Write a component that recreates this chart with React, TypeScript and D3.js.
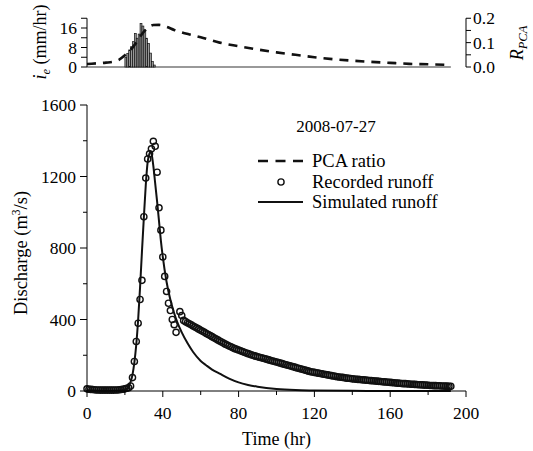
import React from "react";
import * as d3 from "d3";

// ---- data ----
const rainTime = [20, 21, 22, 23, 24, 25, 26, 27, 28, 29, 30, 31, 32, 33, 34, 35];
const rainValue = [4.0, 5.6, 7.0, 8.3, 10.4, 13.8, 11.8, 13.5, 17.9, 16.8, 15.2, 11.8, 9.7, 5.7, 2.2, 0.8];

const pcaTime = [0, 5, 10, 14, 17, 20, 23, 26, 29, 32, 35, 38, 42, 46, 50, 55, 60, 70, 80, 90, 100, 110, 120, 130, 140, 150, 160, 170, 180, 190, 192];
const pcaValue = [0.012, 0.015, 0.018, 0.022, 0.03, 0.048, 0.07, 0.1, 0.135, 0.16, 0.172, 0.173, 0.165, 0.152, 0.142, 0.132, 0.122, 0.1, 0.085, 0.072, 0.06, 0.05, 0.04, 0.032, 0.026, 0.021, 0.017, 0.013, 0.011, 0.009, 0.008];

const simTime = [0, 5, 10, 15, 18, 20, 21, 22, 23, 24, 25, 26, 27, 28, 29, 30, 31, 32, 33, 33.7, 34.5, 35, 36, 37, 38, 39, 40, 42, 44, 46, 48, 50, 53, 56, 60, 63, 66, 70, 75, 80, 85, 90, 100, 110, 120, 140, 160, 192];
const simQ = [5, 3, 2, 3, 4, 8, 14, 25, 50, 90, 160, 260, 400, 580, 780, 970, 1150, 1280, 1330, 1340, 1300, 1260, 1160, 1060, 950, 840, 750, 610, 510, 435, 375, 328, 268, 218, 168, 143, 120, 97, 69, 48, 34, 24, 11, 5, 3, 1, 0, 0];

const recTime = [
  0, 1, 2, 3, 4, 5, 6, 7, 8, 9, 10, 11, 12, 13, 14, 15, 16, 17, 18, 19, 20, 21,
  22, 23, 24, 25, 26, 27, 28, 29, 30, 31, 32, 33, 34, 35, 36, 37, 38, 39, 40, 41, 42, 43, 44, 45, 46, 47,
  49, 50,
  51, 52, 53, 54, 55, 56, 57, 58, 59, 60,
  61, 62, 63, 64, 65, 66, 67, 68, 69, 70,
  71, 72, 73, 74, 75, 76, 77, 78, 79, 80,
  81, 82, 83, 84, 85, 86, 87, 88, 89, 90,
  91, 92, 93, 94, 95, 96, 97, 98, 99, 100,
  101, 102, 103, 104, 105, 106, 107, 108, 109, 110,
  111, 112, 113, 114, 115, 116, 117, 118, 119, 120,
  121, 122, 123, 124, 125, 126, 127, 128, 129, 130,
  131, 132, 133, 134, 135, 136, 137, 138, 139, 140,
  141, 142, 143, 144, 145, 146, 147, 148, 149, 150,
  151, 152, 153, 154, 155, 156, 157, 158, 159, 160,
  161, 162, 163, 164, 165, 166, 167, 168, 169, 170,
  171, 172, 173, 174, 175, 176, 177, 178, 179, 180,
  181, 182, 183, 184, 185, 186, 187, 188, 189, 190,
  191, 192,
];
const recQ = [
  12, 10, 9, 8, 7, 6, 6, 5, 5, 5, 5, 5, 5, 5, 5, 6, 6, 7, 8, 10, 12, 15,
  18, 28, 75, 165, 277, 379, 512, 619, 975, 1191, 1298, 1327, 1355, 1397, 1369, 1224, 1025, 900, 750, 641, 557, 491, 450, 400, 371, 328,
  444, 422,
  395, 388, 382, 376, 370, 364, 358, 352, 346, 340,
  334, 328, 322, 316, 310, 304, 298, 292, 286, 280,
  274, 268, 262, 257, 252, 247, 242, 237, 233, 229,
  225, 221, 217, 213, 209, 205, 201, 198, 195, 192,
  189, 186, 183, 180, 177, 174, 171, 168, 165, 162,
  159, 156, 153, 150, 147, 144, 141, 138, 135, 132,
  129, 126, 123, 120, 117, 114, 111, 108, 106, 104,
  102, 100, 98, 96, 94, 92, 90, 88, 86, 84,
  82, 80, 78, 77, 76, 74, 72, 71, 70, 68,
  67, 66, 65, 64, 63, 62, 61, 60, 59, 58,
  57, 56, 55, 54, 53, 52, 51, 50, 49, 48,
  47, 46, 45, 44, 43, 42, 41, 41, 40, 39,
  38, 38, 37, 36, 35, 35, 34, 33, 33, 32,
  31, 31, 30, 30, 29, 29, 28, 28, 27, 27,
  26, 26,
];

const xTicks = [0, 40, 80, 120, 160, 200];
const xMinor = [20, 60, 100, 140, 180];
const yTicks = [0, 400, 800, 1200, 1600];
const yMinor = [200, 600, 1000, 1400];
const rainTicks = [0, 8, 16];
const rainMinor = [4, 12, 20];
const pcaTicks = [0, 0.1, 0.2];
const pcaMinor = [0.05, 0.15];
const eventLabel = "2008-07-27";
const legendLabels = ["PCA ratio", "Recorded runoff", "Simulated runoff"];

const FONT = "'Liberation Serif', 'Times New Roman', serif";
const FS = 17.5;

export default function App() {
  const x = d3.scaleLinear().domain([0, 200]).range([87, 466]);
  const y = d3.scaleLinear().domain([0, 1600]).range([391, 105]);
  const yr = d3.scaleLinear().domain([0, 20]).range([67, 18.25]);
  const yp = d3.scaleLinear().domain([0, 0.2]).range([67, 18.25]);

  const simLine = d3
    .line<number>()
    .x((_, i) => x(simTime[i]))
    .y((d) => y(d))
    .curve(d3.curveMonotoneX);
  const pcaLine = d3
    .line<number>()
    .x((_, i) => x(pcaTime[i]))
    .y((d) => yp(d))
    .curve(d3.curveMonotoneX);

  const barW = x(1) - x(0);

  return (
    <svg
      width={533}
      height={451}
      style={{ position: "absolute", left: 0, top: 0, background: "#fff" }}
      fontFamily={FONT}
      fontSize={FS}
    >
      <rect x={0} y={0} width={533} height={451} fill="#fff" />
      {/* ---------- top panel ---------- */}
      <line x1={x(0)} x2={x(192)} y1={67} y2={67} stroke="#777" strokeWidth={1.6} />
      {rainValue.map((v, i) => (
        <rect
          key={"r" + i}
          x={x(rainTime[i])}
          y={yr(v)}
          width={barW}
          height={yr(0) - yr(v)}
          fill="#999"
          stroke="#111"
          strokeWidth={0.7}
        />
      ))}
      <path d={pcaLine(pcaValue) || ""} fill="none" stroke="#111" strokeWidth={2.6} strokeDasharray="9 7" />
      {/* left axis top */}
      <line x1={x(0)} x2={x(0)} y1={yr(0)} y2={yr(20)} stroke="#000" strokeWidth={1} />
      {[...rainTicks, ...rainMinor].map((t) => (
        <line key={"rt" + t} x1={x(0) - 6} x2={x(0)} y1={yr(t)} y2={yr(t)} stroke="#000" strokeWidth={1} />
      ))}
      {rainTicks.map((t) => (
        <text key={"rl" + t} x={x(0) - 10} y={yr(t)} dy="0.35em" textAnchor="end">
          {t}
        </text>
      ))}
      <text transform="translate(46,42) rotate(-90)" textAnchor="middle" fontSize={18}>
        <tspan fontStyle="italic">i</tspan>
        <tspan fontStyle="italic" fontSize={12.5} dy={4}>e</tspan>
        <tspan dy={-4}> (mm/hr)</tspan>
      </text>
      {/* right axis top */}
      <line x1={x(200)} x2={x(200)} y1={yp(0)} y2={yp(0.2)} stroke="#000" strokeWidth={1} />
      {[...pcaTicks, ...pcaMinor].map((t) => (
        <line key={"pt" + t} x1={x(200)} x2={x(200) + 5} y1={yp(t)} y2={yp(t)} stroke="#000" strokeWidth={1} />
      ))}
      {pcaTicks.map((t) => (
        <text key={"pl" + t} x={x(200) + 7} y={yp(t)} dy="0.35em" textAnchor="start">
          {t.toFixed(1)}
        </text>
      ))}
      <text transform="translate(523,43) rotate(-90)" textAnchor="middle" fontSize={18}>
        <tspan fontStyle="italic">R</tspan>
        <tspan fontStyle="italic" fontSize={12.5} dy={4}>PCA</tspan>
      </text>

      {/* ---------- main panel ---------- */}
      <path d={simLine(simQ) || ""} fill="none" stroke="#111" strokeWidth={2} />
      {recQ.map((q, i) => (
        <circle key={"c" + i} cx={x(recTime[i])} cy={y(q)} r={3.1} fill="none" stroke="#111" strokeWidth={1.4} />
      ))}
      {/* axes */}
      <line x1={x(0)} x2={x(0)} y1={y(0)} y2={y(1600)} stroke="#000" strokeWidth={1} />
      <line x1={x(0)} x2={x(200)} y1={y(0)} y2={y(0)} stroke="#000" strokeWidth={1} />
      {yTicks.map((t) => (
        <g key={"yt" + t}>
          <line x1={x(0) - 7} x2={x(0)} y1={y(t)} y2={y(t)} stroke="#000" />
          <text x={x(0) - 11} y={y(t)} dy="0.35em" textAnchor="end">
            {t}
          </text>
        </g>
      ))}
      {yMinor.map((t) => (
        <line key={"ym" + t} x1={x(0) - 4} x2={x(0)} y1={y(t)} y2={y(t)} stroke="#000" />
      ))}
      {xTicks.map((t) => (
        <g key={"xt" + t}>
          <line x1={x(t)} x2={x(t)} y1={y(0)} y2={y(0) + 6} stroke="#000" />
          <text x={x(t)} y={419} textAnchor="middle">
            {t}
          </text>
        </g>
      ))}
      {xMinor.map((t) => (
        <line key={"xm" + t} x1={x(t)} x2={x(t)} y1={y(0)} y2={y(0) + 4} stroke="#000" />
      ))}
      <text x={(x(0) + x(200)) / 2} y={445} textAnchor="middle" fontSize={18}>
        Time (hr)
      </text>
      <text transform="translate(27,253) rotate(-90)" textAnchor="middle" fontSize={18.5}>
        Discharge (m<tspan fontSize={11.5} dy={-7}>3</tspan>
        <tspan dy={7}>/s)</tspan>
      </text>

      {/* annotation + legend */}
      <text x={336} y={126} dy="0.35em" textAnchor="middle" fontSize={17}>
        {eventLabel}
      </text>
      <line x1={258} x2={303} y1={161} y2={161} stroke="#111" strokeWidth={2.6} strokeDasharray="10 7.5" />
      <circle cx={281} cy={182} r={3.1} fill="none" stroke="#111" strokeWidth={1.4} />
      <line x1={258} x2={303} y1={202} y2={202} stroke="#111" strokeWidth={2} />
      {legendLabels.map((s, i) => (
        <text key={s} x={312} y={161 + i * 20.5} dy="0.35em" fontSize={18.5}>
          {s}
        </text>
      ))}
    </svg>
  );
}
